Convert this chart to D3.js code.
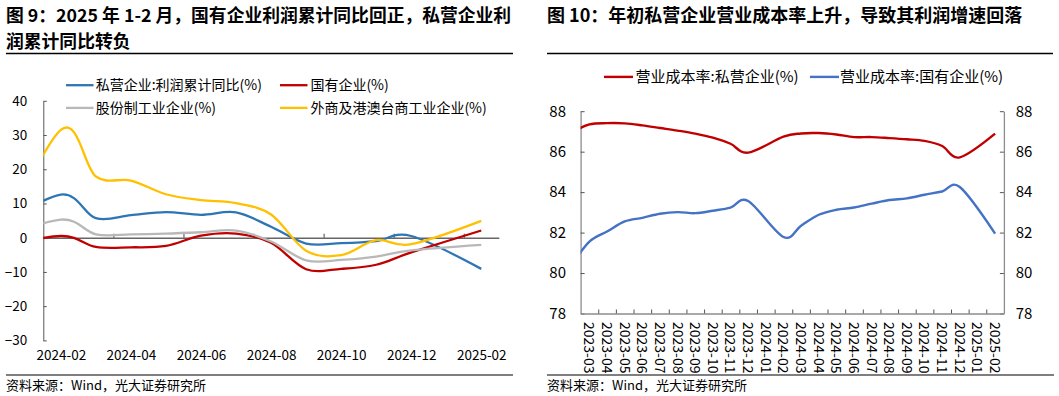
<!DOCTYPE html>
<html><head><meta charset="utf-8">
<script src="https://cdn.jsdelivr.net/npm/d3@7"></script>
<style>
body{margin:0;background:#fff;}
svg text{font-family:"Noto Sans CJK SC","Noto Sans",sans-serif;}
</style>
</head><body>
<svg id="c" width="1059" height="396"></svg>
<script>
// ---------- DATA ----------
// Left chart: cumulative YoY profit growth (%)
const leftMonths = ["2023-12","2024-02","2024-03","2024-04","2024-05","2024-06","2024-07","2024-08","2024-09","2024-10","2024-11","2024-12","2025-02"];
const privateProfit = [2.0, 12.6, 5.7, 6.6, 7.5, 6.7, 7.4, 3.2, -1.7, -1.6, -1.0, 0.5, -9.1];
const soeProfit     = [-3.4, 0.5, -2.7, -2.8, -2.4, 0.6, 1.2, -1.5, -9.2, -9.1, -7.9, -4.3, 2.1];
const jointStockProfit = [-1.2, 5.3, 1.0, 1.0, 1.2, 1.6, 2.1, -1.1, -6.6, -6.5, -5.5, -3.7, -2.1];
const foreignProfit = [-6.7, 31.5, 17.9, 16.7, 12.7, 11.0, 10.1, 6.8, -3.8, -5.1, -0.7, -1.9, 4.9];
const leftXLabels = ["2024-02","2024-04","2024-06","2024-08","2024-10","2024-12","2025-02"];
const leftYTicks = [-30,-20,-10,0,10,20,30,40];
const leftSeriesNames = ["私营企业:利润累计同比(%)","国有企业(%)","股份制工业企业(%)","外商及港澳台商工业企业(%)"];

// Right chart: operating cost ratio (%)
const rightMonths = ["2023-02","2023-03","2023-04","2023-05","2023-06","2023-07","2023-08","2023-09","2023-10","2023-11","2023-12","2024-01","2024-02","2024-03","2024-04","2024-05","2024-06","2024-07","2024-08","2024-09","2024-10","2024-11","2024-12","2025-01","2025-02"];
const privateCost = [86.95, 87.35, 87.41, 87.40, 87.30, 87.17, 87.04, 86.89, 86.69, 86.39, 85.95, null, 86.74, 86.90, 86.92, 86.85, 86.72, 86.72, 86.67, 86.61, 86.53, 86.28, 85.72, null, 86.89];
const stateCost   = [80.40, 81.55, 82.05, 82.55, 82.73, 82.93, 83.01, 82.96, 83.08, 83.23, 83.56, null, 81.78, 82.34, 82.88, 83.13, 83.24, 83.43, 83.61, 83.69, 83.87, 84.03, 84.25, null, 81.95];
const rightXLabels = rightMonths.slice(1);
const rightYTicks = [78,80,82,84,86,88];
const rightSeriesNames = ["营业成本率:私营企业(%)","营业成本率:国有企业(%)"];

const titleLeft = ["图 9：2025 年 1-2 月，国有企业利润累计同比回正，私营企业利","润累计同比转负"];
const titleRight = "图 10：年初私营企业营业成本率上升，导致其利润增速回落";
const sourceText = "资料来源：Wind，光大证券研究所";

// ---------- HELPERS ----------
function monthIdx(s, base){
  const [y,m] = s.split("-").map(Number);
  const [by,bm] = base.split("-").map(Number);
  return (y-by)*12 + (m-bm);
}
const svg = d3.select("#c");
const defs = svg.append("defs");

// ---------- TITLES / FRAMES ----------
svg.append("text").attr("x",6).attr("y",21.7).attr("font-size",17.8).attr("font-weight",700).attr("fill","#000").text(titleLeft[0]);
svg.append("text").attr("x",6).attr("y",47.5).attr("font-size",17.8).attr("font-weight",700).attr("fill","#000").text(titleLeft[1]);
svg.append("text").attr("x",547).attr("y",21.7).attr("font-size",18).attr("font-weight",700).attr("fill","#000").text(titleRight);
svg.append("line").attr("x1",6).attr("x2",513).attr("y1",53.5).attr("y2",53.5).attr("stroke","#000").attr("stroke-width",1.5);
svg.append("line").attr("x1",547).attr("x2",1053).attr("y1",53.5).attr("y2",53.5).attr("stroke","#000").attr("stroke-width",1.5);
svg.append("line").attr("x1",6).attr("x2",513).attr("y1",375).attr("y2",375).attr("stroke","#7f7f7f").attr("stroke-width",2);
svg.append("line").attr("x1",547).attr("x2",1054).attr("y1",375).attr("y2",375).attr("stroke","#7f7f7f").attr("stroke-width",2);
svg.append("text").attr("x",6).attr("y",389.5).attr("font-size",13).attr("fill","#000").text(sourceText);
svg.append("text").attr("x",547).attr("y",389.5).attr("font-size",13).attr("fill","#000").text(sourceText);

// ---------- LEFT CHART ----------
const xL = d3.scaleLinear().domain([-0.5,12.5]).range([43.3,498.8]);
const yL = d3.scaleLinear().domain([-30,40]).range([340.4,100.8]);
defs.append("clipPath").attr("id","clipL").append("rect")
  .attr("x",xL.range()[0]).attr("y",90).attr("width",xL.range()[1]-xL.range()[0]).attr("height",260);

const gyL = svg.append("g").attr("transform",`translate(${xL.range()[0]},0)`)
  .call(d3.axisLeft(yL).tickValues(leftYTicks).tickSize(-3.5).tickSizeOuter(0).tickPadding(16));
gyL.select(".domain").attr("stroke","#595959");
gyL.selectAll(".tick line").attr("stroke","#595959");
gyL.selectAll(".tick text").attr("font-size",13.5).attr("fill","#000").attr("font-family",null);

const gxL = svg.append("g").attr("transform",`translate(0,${yL(0)})`)
  .call(d3.axisTop(xL).tickValues([1.5,3.5,5.5,7.5,9.5,11.5]).tickSize(4).tickSizeOuter(0).tickFormat(""));
gxL.select(".domain").attr("stroke","#666").attr("stroke-width",1.6);
gxL.selectAll(".tick line").attr("stroke","#444");

const gxlL = svg.append("g").attr("transform","translate(0,350.3)")
  .call(d3.axisBottom(xL).tickValues([0,2,4,6,8,10,12]).tickSize(0).tickPadding(0).tickFormat((d,i)=>leftXLabels[i]));
gxlL.select(".domain").remove();
gxlL.selectAll(".tick text").attr("font-size",13.5).attr("fill","#000").attr("font-family",null);

const leftSeries = [
  {vals: privateProfit, color:"#2E75B6"},
  {vals: soeProfit, color:"#C00000"},
  {vals: jointStockProfit, color:"#B8B8B8"},
  {vals: foreignProfit, color:"#FFC000"}
];
const lineL = d3.line().x(d=>xL(d.i)).y(d=>yL(d.v)).curve(d3.curveCardinal.tension(0));
const gLinesL = svg.append("g").attr("clip-path","url(#clipL)");
leftSeries.forEach(s=>{
  const pts = leftMonths.map((m,k)=>({i:monthIdx(m,"2024-02"), v:s.vals[k]})).filter(d=>d.v!=null);
  gLinesL.append("path").datum(pts).attr("d",lineL).attr("fill","none")
    .attr("stroke",s.color).attr("stroke-width",2.3).attr("stroke-linejoin","round");
});

// left legend
const legL = [
  {x:66, y:85.2, tx:95.7},
  {x:280, y:85.2, tx:310.4},
  {x:66, y:107.9, tx:95.7},
  {x:280, y:107.9, tx:310.4}
];
legL.forEach((p,k)=>{
  svg.append("line").attr("x1",p.x).attr("x2",p.x+27.5).attr("y1",p.y).attr("y2",p.y)
    .attr("stroke",leftSeries[k].color).attr("stroke-width",2.3);
  svg.append("text").attr("x",p.tx).attr("y",p.y).attr("dy","0.36em").attr("font-size",14).attr("fill","#000").text(leftSeriesNames[k]);
});

// ---------- RIGHT CHART ----------
const xR = d3.scaleLinear().domain([-0.5,23.5]).range([580.6,1003.9]);
const yR = d3.scaleLinear().domain([78,88]).range([313.5,111.2]);
defs.append("clipPath").attr("id","clipR").append("rect")
  .attr("x",xR.range()[0]).attr("y",100).attr("width",xR.range()[1]-xR.range()[0]).attr("height",220);

const axisColR = "#8c8c8c";
const gyR1 = svg.append("g").attr("transform",`translate(${xR.range()[0]},0)`)
  .call(d3.axisLeft(yR).tickValues(rightYTicks).tickSize(-4).tickSizeOuter(0).tickPadding(14.6));
const gyR2 = svg.append("g").attr("transform",`translate(${xR.range()[1]},0)`)
  .call(d3.axisRight(yR).tickValues(rightYTicks).tickSize(-4).tickSizeOuter(0).tickPadding(11.8));
const gxR = svg.append("g").attr("transform",`translate(0,${yR(78)})`)
  .call(d3.axisBottom(xR).tickValues(d3.range(0.5,23,1)).tickSize(-4).tickSizeOuter(0).tickFormat(""));
[gyR1,gyR2,gxR].forEach(g=>{
  g.select(".domain").attr("stroke",axisColR).attr("stroke-width",1.3);
  g.selectAll(".tick line").attr("stroke","#555");
  g.selectAll(".tick text").attr("font-size",15).attr("fill","#000").attr("font-family",null);
});

// rotated category labels
const gxlR = svg.append("g");
rightXLabels.forEach(lbl=>{
  const i = monthIdx(lbl,"2023-03");
  gxlR.append("text").attr("transform",`translate(${xR(i)},322) rotate(90)`)
    .attr("dy","0.36em").attr("text-anchor","start").attr("font-size",14).attr("fill","#000").text(lbl);
});

const rightSeries = [
  {vals: privateCost, color:"#C00000"},
  {vals: stateCost, color:"#4472C4"}
];
const lineR = d3.line().x(d=>xR(d.i)).y(d=>yR(d.v)).curve(d3.curveCardinal.tension(0));
const gLinesR = svg.append("g").attr("clip-path","url(#clipR)");
rightSeries.forEach(s=>{
  const pts = rightMonths.map((m,k)=>({i:monthIdx(m,"2023-03"), v:s.vals[k]})).filter(d=>d.v!=null);
  gLinesR.append("path").datum(pts).attr("d",lineR).attr("fill","none")
    .attr("stroke",s.color).attr("stroke-width",2.4).attr("stroke-linejoin","round");
});

// right legend
const legR = [{x:604, tx:635.5},{x:810, tx:840}];
legR.forEach((p,k)=>{
  svg.append("line").attr("x1",p.x).attr("x2",p.x+29).attr("y1",76.9).attr("y2",76.9)
    .attr("stroke",rightSeries[k].color).attr("stroke-width",2.4);
  svg.append("text").attr("x",p.tx).attr("y",76.9).attr("dy","0.36em").attr("font-size",15).attr("fill","#000").text(rightSeriesNames[k]);
});
</script>
</body></html>
